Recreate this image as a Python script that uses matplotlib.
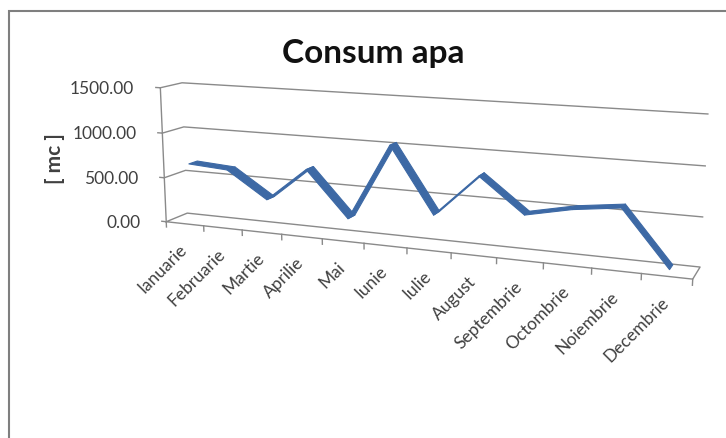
import matplotlib.pyplot as plt
import numpy as np
from matplotlib.patches import Rectangle
from matplotlib.transforms import offset_copy
from mpl_toolkits.mplot3d import proj3d
from mpl_toolkits.mplot3d.art3d import Poly3DCollection

months = ["Ianuarie", "Februarie", "Martie", "Aprilie", "Mai", "Iunie",
          "Iulie", "August", "Septembrie", "Octombrie", "Noiembrie", "Decembrie"]
consum = [650, 620, 330, 700, 210, 1030, 340, 785, 430, 530, 590, 30]
value_ticks = [0, 500, 1000, 1500]

GRID = "#8a8a8a"
TEXT = "#404040"
BLUE = "#3d69a5"

plt.rcParams["font.family"] = ["Lato", "DejaVu Sans"]

fig = plt.figure(figsize=(7.26, 4.39), dpi=100)
fig.add_artist(Rectangle((9 / 726, -0.05), 1.1, 1.05 - 12 / 439,
                         transform=fig.transFigure, fill=False,
                         ec="#7f7f7f", lw=1.5))
fig.text(373 / 726, 1 - 63 / 439, "Consum apa", ha="center", va="baseline",
         fontsize=24, fontweight="bold", color="#111111")
fig.text(55 / 726, 1 - 159 / 439, "[ mc ]", ha="center", va="center",
         rotation=90, fontsize=15, fontweight="bold", color=TEXT)

ax = fig.add_axes([0.1244, 0.1688, 0.88, 0.85], projection="3d",
                  computed_zorder=False)
ax.set_proj_type("persp", focal_length=0.6)
ax.view_init(elev=12, azim=-68)
ax.set_box_aspect((540, 40, 140), zoom=1.518)
ax.set_axis_off()
x0, x1 = -0.5, len(months) - 0.5
ax.set_xlim(x0, x1)
ax.set_ylim(0, 1)
ax.set_zlim(0, 1500)

line_kw = dict(color=GRID, lw=1, zorder=1, clip_on=False)
# walls: gridlines on left side and back
for v in value_ticks[1:]:
    ax.plot([x0, x0, x1], [0, 1, 1], [v, v, v], **line_kw)
# floor
ax.plot([x0, x0, x1, x1, x0], [0, 1, 1, 0, 0], [0, 0, 0, 0, 0], **line_kw)
# vertical axis with ticks
ax.plot([x0, x0], [0, 0], [0, 1500], **line_kw)
for v in value_ticks:
    ax.plot([x0 - 0.12, x0], [0, 0], [v, v], **line_kw)
# category tick marks
for b in np.arange(x0, x1 + 0.01, 1.0):
    ax.plot([b, b], [0, 0], [0, -60], **line_kw)

# ribbon for the 3D line
xs = np.arange(len(consum))
quads = []
for i in range(len(consum) - 1):
    quads.append([(xs[i], 0.3, consum[i]), (xs[i + 1], 0.3, consum[i + 1]),
                  (xs[i + 1], 0.7, consum[i + 1]), (xs[i], 0.7, consum[i])])
ribbon = Poly3DCollection(quads, facecolors=BLUE, edgecolors=BLUE,
                          linewidths=0.8, zorder=3, clip_on=False)
ax.add_collection3d(ribbon)

# texts are placed in 2D at the projected positions
fig.canvas.draw()
for v in value_ticks:
    px, py, _ = proj3d.proj_transform(x0, 0, v, ax.M)
    ax.text2D(px, py, f"{v:.2f}", ha="right", va="center", fontsize=12.5,
              color=TEXT, clip_on=False,
              transform=offset_copy(ax.transData, fig, x=-26, y=0, units="dots"))
for i, m in enumerate(months):
    px, py, _ = proj3d.proj_transform(i, 0, 0, ax.M)
    ax.text2D(px, py, m, ha="right", va="top", rotation=45,
              rotation_mode="anchor", fontsize=12.5, color=TEXT, clip_on=False,
              transform=offset_copy(ax.transData, fig, x=-6, y=-17, units="dots"))

fig.savefig("out.png", dpi=100)
